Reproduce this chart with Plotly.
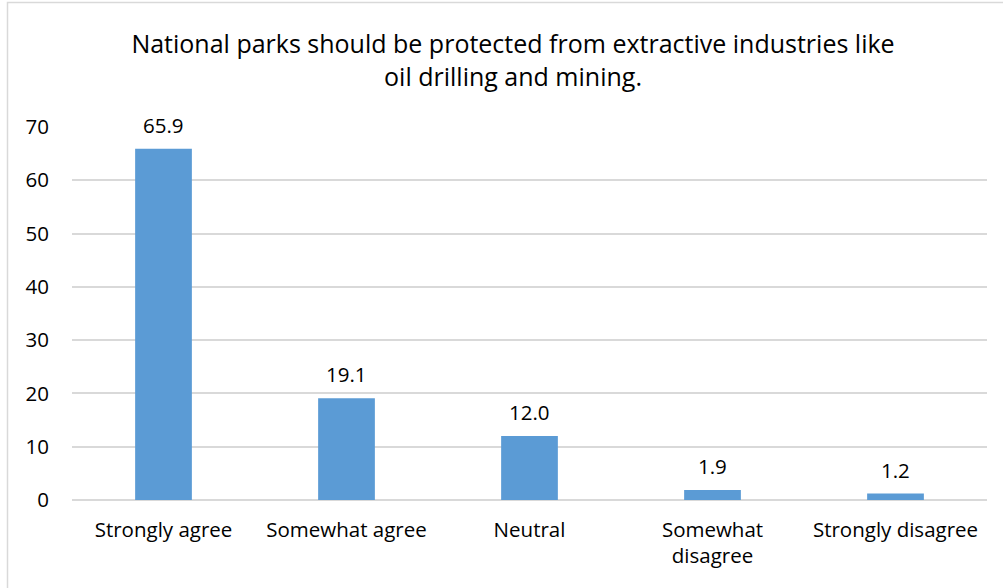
import plotly.graph_objects as go

categories = ["Strongly agree", "Somewhat agree", "Neutral", "Somewhat<br>disagree", "Strongly disagree"]
values = [65.9, 19.1, 12.0, 1.9, 1.2]
labels = ["65.9", "19.1", "12.0", "1.9", "1.2"]
y_ticks = [0, 10, 20, 30, 40, 50, 60, 70]

FONT = "Open Sans"
W, H = 1003, 588
L, R, T, B = 72, 16, 127, 88
PW, PH = W - L - R, H - T - B

fig = go.Figure(go.Bar(
    x=categories, y=values,
    marker=dict(color="#5B9BD5", line=dict(width=0)),
    width=0.31,
    hoverinfo="skip",
))

for c, v, t in zip(categories, values, labels):
    fig.add_annotation(x=c, y=v, text=t, showarrow=False, yanchor="middle",
                       yshift=24, font=dict(family=FONT, size=20.5, color="#000000"))

fig.update_layout(
    width=W, height=H,
    margin=dict(l=L, r=R, t=T, b=B),
    paper_bgcolor="white", plot_bgcolor="white",
    showlegend=False,
    title=dict(text="National parks should be protected from extractive industries like<br>oil drilling and mining.",
               x=513 / W, xanchor="center", y=1 - 53 / H, yanchor="top",
               font=dict(family=FONT, size=25, color="#000000")),
    font=dict(family=FONT, size=20.5, color="#000000"),
    xaxis=dict(showgrid=False, showline=False, ticks="", tickfont=dict(size=20.5),
               ticklabelstandoff=15),
    yaxis=dict(range=[0, 70], tickvals=y_ticks, showgrid=True, gridcolor="#d9d9d9",
               gridwidth=1.5, zeroline=True, zerolinecolor="#d9d9d9", zerolinewidth=1.5,
               showline=False, ticks="", tickfont=dict(size=20.5), ticklabelstandoff=22),
)

fig.add_shape(type="rect", xref="paper", yref="paper",
              x0=(7.5 - L) / PW, x1=(W + 10 - L) / PW,
              y0=-(B + 10) / PH, y1=1.0 + (T - 2.5) / PH,
              line=dict(color="#d9d9d9", width=1.5), fillcolor="rgba(0,0,0,0)", layer="above")

fig.write_html("out.html", config={"displayModeBar": False},
               post_script="document.body.style.margin='0';")
